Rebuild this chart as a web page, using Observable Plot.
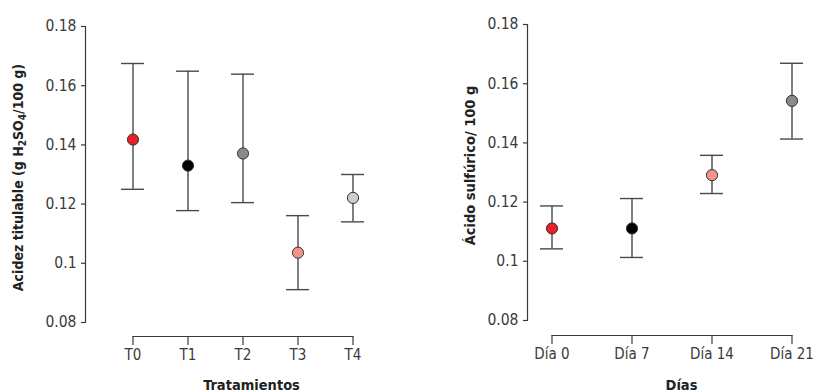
<!DOCTYPE html>
<html>
<head>
<meta charset="utf-8">
<script src="https://cdn.jsdelivr.net/npm/d3@7"></script>
<script src="https://cdn.jsdelivr.net/npm/@observablehq/plot@0.6"></script>
<style>
  body { margin: 0; background: #fff; }
  #wrap { display: flex; width: 814px; height: 392px; overflow: hidden; }
  #wrap svg { display: block; flex: none; }
</style>
</head>
<body>
<div id="wrap"></div>
<script>
// ---- Data ----
const yTicks = [0.08, 0.1, 0.12, 0.14, 0.16, 0.18];
const yTickLabels = ["0.08", "0.1", "0.12", "0.14", "0.16", "0.18"];

const leftCats = ["T0", "T1", "T2", "T3", "T4"];
const leftMean = [0.1418, 0.1330, 0.1371, 0.1036, 0.1221];
const leftLow  = [0.1250, 0.1178, 0.1205, 0.0911, 0.1140];
const leftHigh = [0.1675, 0.1649, 0.1639, 0.1161, 0.1300];
const leftColors = ["#e8202a", "#000000", "#8a8a8a", "#f4938b", "#cccccc"];
const leftXTitle = "Tratamientos";
const leftYTitle = "Acidez titulable (g H2SO4/100 g)";

const rightCats = ["Día 0", "Día 7", "Día 14", "Día 21"];
const rightMean = [0.1111, 0.1111, 0.1291, 0.1542];
const rightLow  = [0.1042, 0.1013, 0.1229, 0.1413];
const rightHigh = [0.1187, 0.1212, 0.1358, 0.1669];
const rightColors = ["#e8202a", "#000000", "#f4938b", "#8a8a8a"];
const rightXTitle = "Días";
const rightYTitle = "Ácido sulfúrico/ 100 g";

const FONT = "'DejaVu Sans Condensed', 'DejaVu Sans', sans-serif";
const INK = "#3a3a3a";

function panel(cfg) {
  const rows = cfg.cats.map((c, i) => ({cat: c, mean: cfg.mean[i], lo: cfg.low[i], hi: cfg.high[i], color: cfg.colors[i]}));
  const svg = Plot.plot({
    width: cfg.width,
    height: 392,
    marginLeft: cfg.marginLeft,
    marginRight: cfg.marginRight,
    marginTop: cfg.marginTop,
    marginBottom: cfg.marginBottom,
    style: {fontFamily: FONT, fontSize: "15px", color: INK, background: "white", fontStretch: "condensed"},
    x: {type: "band", domain: cfg.cats, range: cfg.xRange, paddingInner: cfg.pad, paddingOuter: cfg.pad / 2, axis: null, label: null},
    y: {domain: [yTicks[0], yTicks[yTicks.length - 1]], axis: null, label: null},
    color: {type: "identity"},
    marks: [
      Plot.frame({anchor: "left", stroke: INK, strokeWidth: 1.2}),
      Plot.axisY(yTicks, {tickSize: 4, tickPadding: 5, stroke: INK, fill: INK, strokeWidth: 1.2, label: null,
        tickFormat: (d) => yTickLabels[yTicks.indexOf(d)], fontSize: 15.5}),
      Plot.line(cfg.cats, {x: (d) => d, y: () => yTicks[0], dy: cfg.xAxisOffset, stroke: INK, strokeWidth: 1.2}),
      Plot.axisX(cfg.cats, {tickSize: 9, tickPadding: 4, dy: cfg.xAxisOffset, stroke: INK, fill: INK, strokeWidth: 1.2, fontSize: 15, label: null}),
      Plot.ruleX(rows, {x: "cat", y1: "lo", y2: "hi", stroke: "#4a4a4a", strokeWidth: 1.4}),
      Plot.tickY(rows, {x: "cat", y: "hi", stroke: "#4a4a4a", strokeWidth: 1.4}),
      Plot.tickY(rows, {x: "cat", y: "lo", stroke: "#4a4a4a", strokeWidth: 1.4}),
      Plot.dot(rows, {x: "cat", y: "mean", r: 5.6, fill: "color", stroke: "#333", strokeWidth: 1}),
      Plot.text([cfg.xTitle], {frameAnchor: "bottom", lineAnchor: "middle", dx: cfg.xTitleDx, dy: cfg.xTitleDy,
        fontWeight: "bold", fontSize: 14.5, fill: "#222", text: (d) => d}),
      Plot.text([cfg.yTitle], {frameAnchor: "left", rotate: -90, textAnchor: "middle", lineAnchor: "middle",
        dx: cfg.yTitleDx, dy: cfg.yTitleDy, fontWeight: "bold", fontSize: cfg.yTitleSize, fill: "#222", text: (d) => d})
    ]
  });
  return svg;
}

const left = panel({
  cats: leftCats, mean: leftMean, low: leftLow, high: leftHigh, colors: leftColors,
  xTitle: leftXTitle, yTitle: leftYTitle,
  width: 420, marginLeft: 85, marginRight: 3, marginTop: 26, marginBottom: 70,
  xRange: [103.25, 380.75], pad: 1 - 23 / 55.5, xAxisOffset: 14,
  xTitleDx: 0, xTitleDy: 63, yTitleDx: -67, yTitleDy: 3, yTitleSize: 14
});
const right = panel({
  cats: rightCats, mean: rightMean, low: rightLow, high: rightHigh, colors: rightColors,
  xTitle: rightXTitle, yTitle: rightYTitle,
  width: 394, marginLeft: 107, marginRight: 0, marginTop: 24, marginBottom: 72,
  xRange: [91.5, 412], pad: 1 - 23 / 80.1, xAxisOffset: 15,
  xTitleDx: 10.5, xTitleDy: 65, yTitleDx: -57, yTitleDy: -7, yTitleSize: 14.5
});

// subscript formatting for chemical formula
for (const t of left.querySelectorAll("text")) {
  if (t.textContent === leftYTitle) {
    t.innerHTML = 'Acidez titulable (g H<tspan font-size="10" dy="3">2</tspan><tspan dy="-3">SO</tspan><tspan font-size="10" dy="3">4</tspan><tspan dy="-3">/100 g)</tspan>';
  }
}

const wrap = document.getElementById("wrap");
wrap.appendChild(left);
wrap.appendChild(right);
</script>
</body>
</html>
